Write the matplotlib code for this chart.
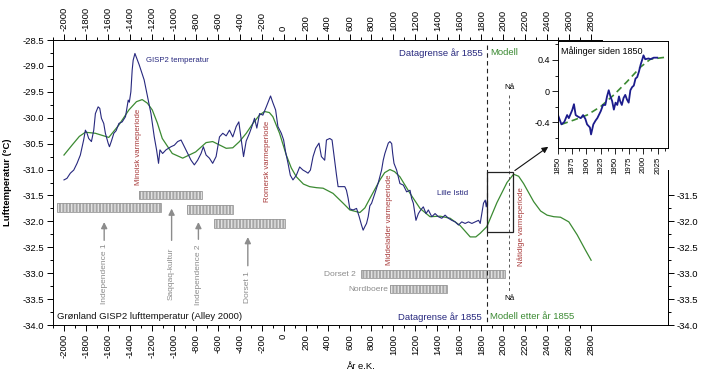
import numpy as np
import matplotlib
matplotlib.use('Agg')
import matplotlib.pyplot as plt
from matplotlib.patches import Rectangle
from matplotlib.ticker import MultipleLocator

plt.rcParams['font.family'] = ['Liberation Sans', 'DejaVu Sans']
plt.rcParams['axes.unicode_minus'] = False
plt.rcParams['hatch.linewidth'] = 1.0

# GISP2 temperatur (blaa)
gisp_aar = [-2000, -1973, -1942, -1911, -1881, -1851, -1821, -1805, -1790, -1775, -1750, -1729, -1714, -1689,
            -1674, -1659, -1638, -1623, -1598, -1586, -1568, -1546, -1525, -1500, -1470, -1440, -1415, -1405,
            -1391, -1379, -1370, -1354, -1315, -1270, -1239, -1208, -1178, -1157, -1139, -1126, -1102, -1071,
            -1026, -995, -965, -934, -904, -874, -843, -813, -783, -752, -731, -706, -676, -646, -615, -584,
            -554, -523, -493, -463, -432, -408, -386, -365, -341, -311, -289, -265, -244, -219, -189, -158,
            -134, -119, -98, -73, -52, -21, 0, 18, 40, 61, 85, 116, 146, 176, 201, 222, 244, 268, 292, 322,
            344, 374, 390, 420, 441, 460, 481, 496, 557, 572, 587, 603, 633, 664, 688, 709, 724, 740, 755,
            770, 785, 801, 831, 861, 892, 907, 922, 938, 953, 968, 984, 993, 1005, 1029, 1044, 1059, 1090,
            1120, 1151, 1166, 1181, 1205, 1227, 1248, 1272, 1297, 1318, 1349, 1379, 1409, 1440, 1470, 1501,
            1531, 1562, 1592, 1622, 1653, 1683, 1714, 1744, 1775, 1790, 1805, 1820, 1836, 1845, 1855]
gisp_temp = [-31.20, -31.17, -31.07, -31.01, -30.88, -30.72, -30.43, -30.24, -30.30, -30.40, -30.46, -30.24,
             -29.92, -29.79, -29.82, -30.01, -30.11, -30.30, -30.49, -30.56, -30.45, -30.30, -30.25, -30.11,
             -30.08, -29.98, -29.66, -29.70, -29.50, -29.08, -28.89, -28.76, -28.98, -29.27, -29.60, -29.92,
             -30.37, -30.62, -30.88, -30.62, -30.69, -30.62, -30.56, -30.53, -30.46, -30.43, -30.56, -30.69,
             -30.82, -30.91, -30.82, -30.69, -30.56, -30.72, -30.78, -30.88, -30.75, -30.37, -30.30, -30.35,
             -30.24, -30.37, -30.17, -30.08, -30.43, -30.75, -30.45, -30.30, -30.17, -30.01, -30.20, -29.92,
             -29.95, -29.79, -29.66, -29.58, -29.71, -29.85, -30.17, -30.30, -30.43, -30.66, -30.88, -31.11,
             -31.20, -31.11, -30.95, -31.01, -31.04, -31.07, -31.01, -30.75, -30.59, -30.49, -30.75, -30.82,
             -30.43, -30.40, -30.43, -30.75, -31.10, -31.33, -31.33, -31.40, -31.55, -31.76, -31.78, -31.75,
             -31.91, -32.07, -32.17, -32.10, -32.04, -31.91, -31.70, -31.65, -31.46, -31.26, -31.01, -30.82,
             -30.69, -30.59, -30.49, -30.46, -30.50, -30.69, -30.88, -31.01, -31.14, -31.27, -31.30, -31.43,
             -31.40, -31.56, -31.65, -31.98, -31.85, -31.78, -31.72, -31.85, -31.78, -31.91, -31.85, -31.91,
             -31.94, -31.88, -31.94, -31.98, -32.01, -32.07, -32.01, -32.04, -32.01, -32.04, -32.01, -31.98,
             -32.04, -31.85, -31.65, -31.59, -31.72, -31.60]

# Modell (groenn)
modell_aar = [-2000, -1927, -1860, -1805, -1714, -1592, -1500, -1409, -1340, -1288, -1240, -1196, -1150, -1105,
              -1014, -919, -801, -706, -646, -523, -463, -402, -340, -280, -220, -174, -130, -98, -37, 24, 70,
              116, 180, 237, 300, 359, 450, 542, 603, 694, 740, 785, 877, 920, 968, 1010, 1059, 1151, 1242,
              1333, 1425, 1516, 1607, 1699, 1750, 1790, 1851, 1942, 2034, 2094, 2140, 2185, 2277, 2340, 2399,
              2460, 2521, 2597, 2673, 2747, 2800]
modell_temp = [-30.72, -30.53, -30.36, -30.28, -30.30, -30.38, -30.14, -29.85, -29.69, -29.65, -29.72, -29.85,
               -30.10, -30.40, -30.69, -30.78, -30.66, -30.48, -30.46, -30.59, -30.58, -30.46, -30.30, -30.11,
               -29.95, -29.88, -29.90, -29.98, -30.30, -30.72, -30.97, -31.14, -31.28, -31.33, -31.35, -31.36,
               -31.46, -31.65, -31.78, -31.83, -31.74, -31.56, -31.20, -31.06, -31.00, -31.04, -31.14, -31.46,
               -31.75, -31.91, -31.90, -31.94, -32.08, -32.30, -32.30, -32.23, -32.10, -31.64, -31.25, -31.09,
               -31.13, -31.27, -31.62, -31.80, -31.88, -31.91, -31.92, -32.01, -32.26, -32.55, -32.75]

# Maalinger siden 1850 (innfelt)
maal_aar = [1850, 1856, 1861, 1866, 1869, 1875, 1878, 1881, 1885, 1890, 1894, 1898, 1901, 1906, 1908, 1912,
            1916, 1919, 1925, 1929, 1933, 1936, 1939, 1942, 1945, 1948, 1951, 1954, 1957, 1959, 1962, 1965,
            1968, 1971, 1974, 1977, 1980, 1983, 1986, 1989, 1992, 1995, 1998, 2000, 2003, 2009, 2012, 2018,
            2024]
maal_temp = [-0.31, -0.43, -0.40, -0.31, -0.35, -0.245, -0.17, -0.31, -0.33, -0.35, -0.31, -0.36, -0.43, -0.47,
             -0.56, -0.43, -0.38, -0.35, -0.26, -0.18, -0.18, -0.07, 0.01, -0.07, -0.13, -0.24, -0.15, -0.18,
             -0.07, -0.13, -0.18, -0.09, -0.05, -0.11, -0.15, 0.01, 0.05, 0.07, 0.16, 0.18, 0.25, 0.34, 0.41,
             0.46, 0.41, 0.42, 0.41, 0.43, 0.43]
maal_modell_aar = [1856, 1878, 1901, 1925, 1948, 1971, 1995, 2012, 2043]
maal_modell_temp = [-0.43, -0.374, -0.31, -0.20, -0.05, 0.12, 0.31, 0.41, 0.44]

# Kulturer: navn, start, slutt, temperatur (midt)
kultur_navn = ['Independence 1', 'Saqqaq-kultur', 'Independence 2', 'Dorset 1', 'Dorset 2', 'Nordboere']
kultur_start = [-2060, -1315, -883, -636, 709, 968]
kultur_slutt = [-1116, -746, -457, 9, 2018, 1486]
kultur_temp = [-31.73, -31.485, -31.77, -32.04, -33.015, -33.30]

# Varmeperioder
varme_navn = ['Minoisk varmeperiode', 'Romersk varmeperiode', 'Middelalder varmeperiode', 'Nåtidige varmeperiode']
varme_aar = [-1324, -143, 962, 2164]
varme_temp = [-30.56, -30.85, -31.97, -32.10]

blaa = '#27287e'
gronn = '#3b8a32'
rod = '#a83a3a'
graa = '#8c8c8c'

fig = plt.figure(figsize=(7.06, 3.75), dpi=100)
ax = fig.add_axes([53/706, 1-325/375, 615/706, 285/375])
ax.set_xlim(-2100, 3500)
ax.set_ylim(-34.0, -28.5)

ax.plot(modell_aar, modell_temp, color=gronn, lw=0.9, zorder=3)
ax.plot(gisp_aar, gisp_temp, color=blaa, lw=0.8, zorder=4)

# kulturer
for i, navn in enumerate(kultur_navn):
    x0 = kultur_start[i]
    w = kultur_slutt[i] - kultur_start[i]
    y0 = kultur_temp[i] - 0.08
    ax.add_patch(Rectangle((x0, y0), w, 0.16, facecolor='#a6a6a6', edgecolor='#e2e2e2',
                           hatch='|||||', lw=0, zorder=2))
    ax.add_patch(Rectangle((x0, y0), w, 0.16, fill=False, edgecolor='#999999', lw=0.6, zorder=2))

# piler til kulturer
pil_aar = [-1634, -1020, -776, -326]
pil_topp = [-31.96, -31.70, -31.96, -32.25]
pil_bunn = [-32.42, -32.42, -32.40, -32.91]
tekst_topp = [-32.42, -32.50, -32.45, -32.96]
for i in range(4):
    ax.annotate('', xy=(pil_aar[i], pil_topp[i]), xytext=(pil_aar[i], pil_bunn[i]),
                arrowprops=dict(arrowstyle='-|>', color=graa, lw=1.0, mutation_scale=9))
    ax.text(pil_aar[i], tekst_topp[i], kultur_navn[i], rotation=90, ha='center', va='top',
            fontsize=6, color=graa)
ax.text(657, -33.02, 'Dorset 2', ha='right', va='center', fontsize=6, color=graa)
ax.text(950, -33.31, 'Nordboere', ha='right', va='center', fontsize=6, color=graa)

for i, navn in enumerate(varme_navn):
    ax.text(varme_aar[i], varme_temp[i], navn, rotation=90, ha='center', va='center',
            fontsize=5.6, color=rod)

ax.text(-1254, -28.89, 'GISP2 temperatur', fontsize=5.6, color=blaa, va='center')
ax.text(1539, -31.47, 'Lille Istid', fontsize=5.8, color=blaa, ha='center', va='center')
ax.text(1815, -28.745, 'Datagrense år 1855', fontsize=6.8, color=blaa, ha='right', va='center')
ax.text(1881, -28.745, 'Modell', fontsize=6.8, color=gronn, ha='left', va='center')
ax.text(1805, -33.84, 'Datagrense år 1855', fontsize=6.8, color=blaa, ha='right', va='center')
ax.text(1881, -33.84, 'Modell etter år 1855', fontsize=6.8, color=gronn, ha='left', va='center')
ax.text(-2060, -33.84, 'Grønland GISP2 lufttemperatur (Alley 2000)', fontsize=6.8, color='#111111',
        va='center')

# datagrense og naa
ax.plot([1855, 1855], [-28.6, -33.95], color='#222222', lw=0.8, ls=(0, (4, 3)), zorder=5)
ax.plot([2055, 2055], [-29.56, -33.36], color='#555555', lw=0.7, ls=(0, (3, 3)), zorder=5)
ax.text(2055, -29.41, 'Nå', fontsize=5.8, ha='center', va='center')
ax.text(2055, -33.48, 'Nå', fontsize=5.8, ha='center', va='center')

# boks og pil til innfelt
ax.add_patch(Rectangle((1855, -32.20), 230, 1.15, fill=False, edgecolor='#222222', lw=0.9, zorder=6))
ax.annotate('', xy=(2430, -30.53), xytext=(2085, -31.05),
            arrowprops=dict(arrowstyle='-|>', color='#111111', lw=0.8, mutation_scale=9))

# akser
ax.xaxis.set_major_locator(MultipleLocator(200))
ax.xaxis.set_minor_locator(MultipleLocator(100))
ax.yaxis.set_major_locator(MultipleLocator(0.5))
ax.yaxis.set_minor_locator(MultipleLocator(0.25))
xt = np.arange(-2000, 2801, 200)
ax.set_xticks(xt)
ax.set_xticks(np.arange(-2100, 2801, 100), minor=True)
ax.set_xticklabels([str(v) for v in xt])
ax.set_yticks(np.arange(-34.0, -28.49, 0.5))
ax.set_yticklabels(['%.1f' % v for v in np.arange(-34.0, -28.49, 0.5)])
ax.tick_params(axis='x', which='both', top=True, labeltop=True, bottom=True, labelbottom=True,
               direction='out', labelrotation=90, labelsize=6.8, pad=2)
ax.tick_params(axis='y', which='both', left=True, direction='out', labelsize=6.8, pad=2)
ax.tick_params(which='major', length=4.5, width=0.7)
ax.tick_params(which='minor', length=2.5, width=0.7)
for s in ax.spines.values():
    s.set_linewidth(0.7)
ax.spines['right'].set_bounds(-34.0, -31.0)
ax.spines['top'].set_bounds(-2100, 2900)

ax2 = ax.twinx()
ax2.set_ylim(-34.0, -28.5)
ax2.set_yticks(np.arange(-34.0, -31.49, 0.5))
ax2.set_yticklabels(['%.1f' % v for v in np.arange(-34.0, -31.49, 0.5)])
ax2.set_yticks(np.arange(-34.0, -31.49, 0.25), minor=True)
ax2.tick_params(which='both', direction='out', labelsize=6.8, pad=2, width=0.7)
ax2.tick_params(which='major', length=4.5)
ax2.tick_params(which='minor', length=2.5)
for s in ax2.spines.values():
    s.set_visible(False)
ax2.spines['right'].set_visible(True)
ax2.spines['right'].set_bounds(-34.0, -31.0)
ax2.spines['right'].set_linewidth(0.7)

ax.set_xlabel('År e.K.', fontsize=6.8, labelpad=3)
fig.text(0.011, 0.513, 'Lufttemperatur (°C)', rotation=90, ha='center', va='center',
         fontsize=6.8, fontweight='bold')

# innfelt
axi = fig.add_axes([558/706, 1-148/375, 110/706, 107/375])
axi.set_facecolor('white')
axi.plot(maal_modell_aar, maal_modell_temp, color=gronn, lw=1.2, ls=(0, (4, 2.5)))
axi.plot(maal_aar, maal_temp, color='#1c1c8c', lw=1.3)
axi.set_xlim(1850, 2043)
axi.set_ylim(-0.735, 0.645)
axi.set_xticks(np.arange(1850, 2026, 25))
axi.set_xticks(np.arange(1850, 2043, 12.5), minor=True)
axi.set_yticks([-0.4, 0, 0.4])
axi.set_yticklabels(['-0.4', '0', '0.4'])
axi.set_yticks(np.arange(-0.6, 0.61, 0.2), minor=True)
axi.tick_params(axis='x', which='both', labelrotation=90, labelsize=5.6, pad=2)
axi.tick_params(axis='y', labelsize=6.5, pad=2)
axi.tick_params(which='both', direction='out', width=0.6)
axi.tick_params(which='major', length=4)
axi.tick_params(which='minor', length=2.5)
for s in axi.spines.values():
    s.set_linewidth(0.7)
axi.text(0.03, 0.95, 'Målinger siden 1850', transform=axi.transAxes, fontsize=6.5, va='top')

fig.savefig('out.png', dpi=100)
